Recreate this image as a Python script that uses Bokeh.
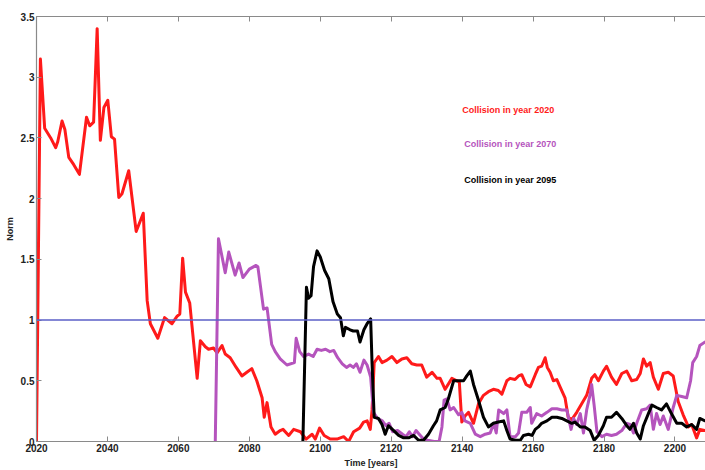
from bokeh.plotting import figure
from bokeh.models import (Range1d, FixedTicker, LinearAxis, Span, Label,
                          CustomJSTickFormatter)
from bokeh.embed import file_html
from bokeh.resources import INLINE

# Norm of the perturbation over time for three collision years
red_years = [2020.0, 2021.1, 2022.3, 2024.0, 2025.4, 2026.0, 2027.2, 2028.0, 2029.1, 2030.5,
             2032.1, 2034.1, 2035.0, 2036.1, 2037.1, 2038.0, 2039.0, 2040.1, 2041.1, 2042.0,
             2043.2, 2044.1, 2046.0, 2048.1, 2050.1, 2051.2, 2052.1, 2054.2, 2056.1, 2058.2,
             2059.6, 2060.4, 2061.2, 2062.0, 2063.2, 2065.3, 2066.2, 2067.6, 2068.5, 2069.9,
             2070.9, 2072.3, 2073.2, 2074.6, 2076.3, 2077.9, 2079.3, 2080.7, 2082.1, 2083.6,
             2084.2, 2085.0, 2086.1, 2087.3, 2088.7, 2089.5, 2091.1, 2092.5, 2094.4, 2096.0,
             2097.7, 2098.6, 2099.8, 2101.1, 2102.8, 2104.7, 2106.6, 2108.0, 2109.4, 2111.1,
             2112.2, 2113.2, 2114.1, 2114.6, 2115.2, 2116.4, 2117.4, 2118.8, 2120.2, 2121.6,
             2123.0, 2124.4, 2125.8, 2127.2, 2128.6, 2130.0, 2131.5, 2132.9, 2133.8, 2135.2,
             2137.1, 2138.5, 2139.2, 2139.9, 2140.8, 2141.8, 2143.2, 2144.6, 2146.0, 2147.4,
             2148.8, 2150.2, 2151.2, 2152.6, 2153.5, 2154.9, 2155.9, 2156.8, 2158.0, 2159.2,
             2160.6, 2161.5, 2162.4, 2163.4, 2164.0, 2164.8, 2165.7, 2166.7, 2167.6, 2169.0,
             2169.9, 2170.9, 2172.3, 2173.7, 2175.1, 2176.5, 2177.4, 2178.4, 2179.8, 2180.7,
             2182.1, 2183.5, 2185.0, 2186.4, 2187.8, 2189.2, 2190.2, 2191.1, 2192.0, 2193.0,
             2193.9, 2195.3, 2196.7, 2198.1, 2199.5, 2200.9, 2202.3, 2203.8, 2204.7, 2206.1,
             2207.0, 2208.5, 2210.0]
red_norm = [0.0, 3.15, 2.58, 2.50, 2.42, 2.47, 2.64, 2.57, 2.34, 2.28,
            2.20, 2.67, 2.60, 2.63, 3.40, 2.48, 2.75, 2.81, 2.51, 2.49,
            2.01, 2.04, 2.23, 1.73, 1.88, 1.16, 0.97, 0.85, 1.02, 0.97,
            1.03, 1.05, 1.51, 1.23, 1.14, 0.52, 0.83, 0.78, 0.76, 0.77,
            0.73, 0.79, 0.72, 0.69, 0.61, 0.54, 0.57, 0.60, 0.50, 0.36,
            0.20, 0.32, 0.12, 0.06, 0.09, 0.10, 0.05, 0.10, 0.08, 0.02,
            0.06, 0.02, 0.11, 0.05, 0.02, 0.02, 0.04, 0.00, 0.08, 0.11,
            0.16, 0.17, 0.10, 0.26, 0.65, 0.70, 0.65, 0.67, 0.70, 0.65,
            0.68, 0.69, 0.64, 0.63, 0.63, 0.53, 0.57, 0.52, 0.52, 0.43,
            0.52, 0.50, 0.49, 0.16, 0.21, 0.24, 0.15, 0.31, 0.38, 0.41,
            0.43, 0.42, 0.39, 0.50, 0.52, 0.51, 0.54, 0.55, 0.47, 0.45,
            0.55, 0.61, 0.62, 0.69, 0.61, 0.57, 0.50, 0.51, 0.45, 0.36,
            0.20, 0.18, 0.24, 0.31, 0.38, 0.52, 0.55, 0.50, 0.58, 0.62,
            0.53, 0.47, 0.56, 0.58, 0.50, 0.51, 0.56, 0.68, 0.62, 0.65,
            0.53, 0.43, 0.56, 0.57, 0.54, 0.33, 0.22, 0.12, 0.14, 0.03,
            0.10, 0.09, 0.08]

purple_years = [2070.4, 2071.3, 2073.2, 2074.2, 2076.0, 2077.1, 2078.2, 2080.0, 2081.9, 2082.4,
                2084.0, 2085.0, 2086.3, 2087.3, 2088.7, 2090.6, 2092.7, 2093.2, 2094.2, 2095.3,
                2096.7, 2098.0, 2099.1, 2100.3, 2101.5, 2102.7, 2103.8, 2104.9, 2106.2, 2107.4,
                2108.4, 2109.3, 2110.2, 2111.2, 2112.3, 2113.2, 2114.2, 2115.0, 2116.1, 2117.5,
                2118.5, 2119.4, 2120.4, 2121.8, 2123.2, 2124.2, 2125.1, 2126.0, 2127.0, 2127.9,
                2129.1, 2130.3, 2132.1, 2133.5, 2134.3, 2134.9, 2135.7, 2136.6, 2137.6, 2139.0,
                2139.9, 2140.8, 2142.3, 2143.7, 2145.1, 2146.5, 2147.9, 2148.9, 2149.6, 2150.3,
                2151.7, 2152.6, 2153.5, 2155.0, 2155.9, 2156.8, 2158.2, 2159.2, 2159.6, 2161.0,
                2162.4, 2163.9, 2165.3, 2166.7, 2168.1, 2169.5, 2170.7, 2171.4, 2172.3, 2173.3,
                2174.2, 2175.1, 2176.1, 2176.5, 2177.2, 2178.0, 2179.4, 2180.7, 2182.1, 2183.5,
                2185.0, 2186.4, 2187.3, 2188.3, 2189.2, 2190.6, 2192.0, 2193.0, 2193.9, 2194.8,
                2195.8, 2196.7, 2198.1, 2199.5, 2200.5, 2201.9, 2203.3, 2204.4, 2205.0, 2206.1,
                2207.0, 2208.5, 2210.0]
purple_norm = [0.0, 1.67, 1.39, 1.56, 1.37, 1.47, 1.35, 1.42, 1.45, 1.44,
               1.09, 1.10, 0.80, 0.74, 0.68, 0.63, 0.65, 0.85, 0.74, 0.70,
               0.72, 0.70, 0.76, 0.75, 0.76, 0.74, 0.75, 0.69, 0.64, 0.61,
               0.63, 0.61, 0.64, 0.57, 0.67, 0.63, 0.53, 0.24, 0.19, 0.17,
               0.13, 0.15, 0.08, 0.09, 0.06, 0.04, 0.08, 0.04, 0.09, 0.06,
               0.02, 0.01, 0.00, 0.00, 0.12, 0.34, 0.35, 0.26, 0.28, 0.22,
               0.24, 0.17, 0.15, 0.06, 0.04, 0.06, 0.07, 0.15, 0.07, 0.26,
               0.23, 0.26, 0.04, 0.04, 0.07, 0.24, 0.24, 0.28, 0.15, 0.23,
               0.21, 0.24, 0.27, 0.27, 0.26, 0.26, 0.10, 0.19, 0.14, 0.23,
               0.07, 0.26, 0.39, 0.47, 0.30, 0.08, 0.04, 0.06, 0.05, 0.06,
               0.09, 0.15, 0.14, 0.07, 0.15, 0.26, 0.27, 0.30, 0.10, 0.23,
               0.14, 0.21, 0.10, 0.28, 0.38, 0.37, 0.36, 0.50, 0.65, 0.70,
               0.79, 0.82, 0.82]

black_years = [2095.1, 2096.1, 2096.7, 2097.4, 2098.1, 2099.1, 2100.0, 2101.2, 2102.4, 2103.6,
               2104.8, 2105.7, 2106.5, 2107.1, 2108.4, 2109.3, 2110.5, 2111.2, 2112.3, 2113.2,
               2114.2, 2114.6, 2115.2, 2116.4, 2117.4, 2118.3, 2119.2, 2120.7, 2122.1, 2123.5,
               2124.9, 2126.3, 2127.7, 2129.1, 2130.5, 2131.9, 2132.8, 2133.8, 2135.2, 2136.1,
               2137.6, 2139.0, 2140.4, 2141.3, 2142.3, 2143.2, 2144.6, 2146.0, 2147.4, 2148.8,
               2150.2, 2151.7, 2152.6, 2153.5, 2155.0, 2156.4, 2157.3, 2158.7, 2159.7, 2160.6,
               2161.5, 2162.4, 2163.9, 2165.3, 2166.7, 2168.1, 2169.5, 2170.9, 2171.8, 2173.3,
               2174.6, 2176.1, 2177.2, 2178.4, 2179.8, 2180.7, 2182.1, 2183.5, 2185.0, 2186.4,
               2187.3, 2188.3, 2189.2, 2190.2, 2191.1, 2192.5, 2193.5, 2194.8, 2196.2, 2197.6,
               2199.0, 2200.5, 2201.9, 2203.3, 2204.7, 2206.1, 2207.0, 2208.5, 2210.0]
black_norm = [0.0, 1.27, 1.18, 1.20, 1.44, 1.57, 1.52, 1.41, 1.34, 1.15,
              1.05, 1.02, 0.87, 0.94, 0.92, 0.91, 0.91, 0.82, 0.92, 0.97,
              1.01, 0.64, 0.20, 0.19, 0.14, 0.06, 0.13, 0.09, 0.05, 0.03,
              0.03, 0.05, 0.01, 0.01, 0.06, 0.13, 0.17, 0.26, 0.28, 0.35,
              0.50, 0.50, 0.50, 0.54, 0.58, 0.47, 0.34, 0.20, 0.12, 0.15,
              0.16, 0.17, 0.09, 0.02, 0.01, 0.01, 0.05, 0.06, 0.05, 0.10,
              0.12, 0.15, 0.17, 0.20, 0.20, 0.19, 0.17, 0.15, 0.16, 0.12,
              0.12, 0.09, 0.01, 0.05, 0.13, 0.20, 0.20, 0.24, 0.19, 0.13,
              0.10, 0.15, 0.07, 0.02, 0.13, 0.23, 0.30, 0.28, 0.26, 0.31,
              0.23, 0.15, 0.15, 0.12, 0.14, 0.10, 0.19, 0.17, 0.17]

threshold = 1.0
x_ticks = [2020, 2040, 2060, 2080, 2100, 2120, 2140, 2160, 2180, 2200]
y_ticks = [0, 0.5, 1, 1.5, 2, 2.5, 3, 3.5]
series_labels = ["Collision in year 2020", "Collision in year 2070", "Collision in year 2095"]

RED = "#ff1a1a"
PURPLE = "#b554bd"
BLACK = "#000000"
BLUE = "#5b5fc7"
AXIS = "#8a8a8a"
FONT = "Liberation Sans"

p = figure(width=705, height=470, output_backend="svg", toolbar_location=None,
           x_range=Range1d(2020, 2208.6), y_range=Range1d(0, 3.5),
           x_axis_location=None, y_axis_location=None,
           min_border_left=36, min_border_right=0, min_border_top=16, min_border_bottom=29)
p.outline_line_color = None
p.grid.visible = False
p.background_fill_color = "white"
p.border_fill_color = "white"

number_fmt = CustomJSTickFormatter(code="return String(Math.round(tick * 10) / 10);")
blank_fmt = CustomJSTickFormatter(code="return '';")


def style_axis(ax, ticks, formatter):
    ax.ticker = FixedTicker(ticks=ticks)
    ax.formatter = formatter
    ax.axis_line_color = AXIS
    ax.axis_line_width = 1.2
    ax.major_tick_line_color = AXIS
    ax.major_tick_in = 5
    ax.major_tick_out = 0
    ax.minor_tick_line_color = None
    ax.major_label_text_font = FONT
    ax.major_label_text_font_style = "bold"
    ax.major_label_text_font_size = "10px"
    ax.major_label_text_color = "#222222"
    ax.major_label_standoff = 2
    ax.axis_label_text_font = FONT
    ax.axis_label_text_font_style = "bold"
    ax.axis_label_text_font_size = "9px"
    ax.axis_label_text_color = "#222222"
    ax.axis_label_standoff = 3


bottom = LinearAxis(axis_label="Time [years]")
top = LinearAxis()
left = LinearAxis(axis_label="Norm")
style_axis(bottom, x_ticks, number_fmt)
style_axis(top, x_ticks, blank_fmt)
style_axis(left, y_ticks, number_fmt)
p.add_layout(bottom, "below")
p.add_layout(top, "above")
p.add_layout(left, "left")

p.add_layout(Span(location=threshold, dimension="width", line_color=BLUE, line_width=1.5))

p.line(red_years, red_norm, line_color=RED, line_width=3, line_join="round")
p.line(purple_years, purple_norm, line_color=PURPLE, line_width=3, line_join="round")
p.line(black_years, black_norm, line_color=BLACK, line_width=3, line_join="round")

for text, color, xpos, ypos in zip(series_labels, [RED, PURPLE, BLACK],
                                   [2140.0, 2140.6, 2140.6], [2.73, 2.45, 2.15]):
    p.add_layout(Label(x=xpos, y=ypos, text=text, text_color=color, text_font=FONT,
                       text_font_style="bold", text_font_size="9px",
                       text_baseline="middle", text_align="left"))

open("out.html", "w").write(file_html(p, INLINE))
